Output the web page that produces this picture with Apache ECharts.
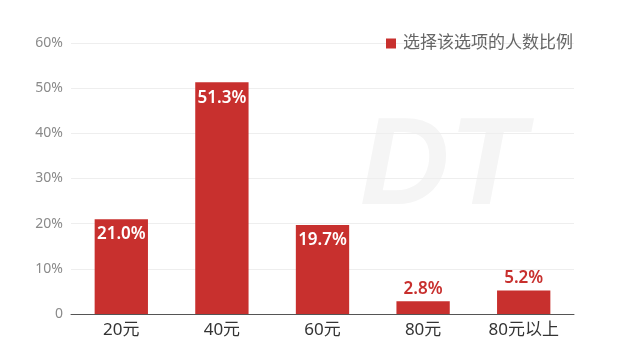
<!DOCTYPE html>
<html><head><meta charset="utf-8">
<script src="https://cdn.jsdelivr.net/npm/echarts@6/dist/echarts.min.js"></script>
<style>html,body{margin:0;padding:0;background:#fff}#c{width:620px;height:361px}</style>
</head><body><div id="c"></div>
<script>
var categories = ['20元', '40元', '60元', '80元', '80元以上'];
var values = [21.0, 51.3, 19.7, 2.8, 5.2];
var seriesName = '选择该选项的人数比例';
var yTicks = [0, 10, 20, 30, 40, 50, 60];

var red = '#c8302e';
var font = '"Noto Sans", "Noto Sans CJK SC", sans-serif';
var chart = echarts.init(document.getElementById('c'));
chart.setOption({
  animation: false,
  textStyle: { fontFamily: font },
  graphic: [{
    type: 'text', left: 360, top: 108, z: 0, silent: true,
    style: { text: 'DT', fontSize: 124, fontWeight: 'bold', fontStyle: 'italic', fontFamily: 'Liberation Sans, sans-serif', fill: '#f5f5f5' }
  }],
  legend: {
    right: 42, top: 30, itemWidth: 10, itemHeight: 10, itemGap: 8,
    icon: 'rect',
    textStyle: { fontSize: 17, color: '#666', fontFamily: font, padding: [0, 0, 0, 2] },
    data: [seriesName]
  },
  grid: { left: 71, right: 46, top: 43, bottom: 47 },
  xAxis: {
    type: 'category', data: categories,
    axisLine: { lineStyle: { color: '#555', width: 1 } },
    axisTick: { show: false },
    axisLabel: { color: '#333', fontSize: 17, margin: 8, fontFamily: font }
  },
  yAxis: {
    type: 'value', min: yTicks[0], max: yTicks[yTicks.length - 1], interval: 10,
    axisLine: { show: false }, axisTick: { show: false },
    splitLine: { lineStyle: { color: '#eeeeee' } },
    axisLabel: { color: '#8a8a8a', fontSize: 14, margin: 8, fontFamily: font,
      formatter: function (v) { return v === 0 ? '0' : v + '%'; } }
  },
  series: [{
    name: seriesName, type: 'bar', barWidth: '53%',
    itemStyle: { color: red },
    data: values.map(function (v) {
      var inside = v > 10;
      return {
        value: v,
        label: {
          show: true,
          position: inside ? 'insideTop' : 'top',
          distance: inside ? 7 : 4,
          color: inside ? '#fff' : red,
          fontSize: 17, fontWeight: 600, fontFamily: font,
          formatter: function (p) { return p.value.toFixed(1) + '%'; }
        }
      };
    })
  }]
});
</script></body></html>
